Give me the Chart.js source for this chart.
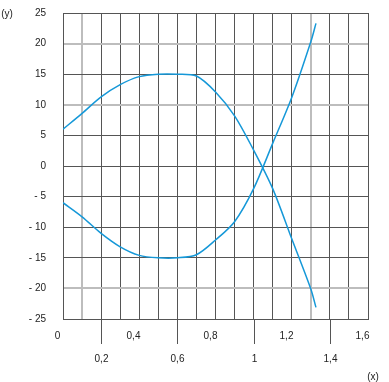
<!DOCTYPE html>
<html>
<head>
<meta charset="utf-8">
<script src="https://cdn.jsdelivr.net/npm/chart.js@4.4.1/dist/chart.umd.min.js"></script>
<style>
  html, body { margin: 0; padding: 0; background: #fff; }
  #wrap { width: 389px; height: 382px; }
</style>
</head>
<body>
<div id="wrap"><canvas id="chart"></canvas></div>
<script>
const xValues = [0, 0.1, 0.2, 0.3, 0.4, 0.5, 0.6, 0.7, 0.8, 0.9, 1.0, 1.1, 1.2, 1.3, 1.327];
const upperCurve = [6.0, 8.6, 11.3, 13.3, 14.6, 15.0, 15.0, 14.7, 12.1, 8.2, 2.6, -3.7, -11.9, -20.1, -23.1];
const lowerCurve = [-6.0, -8.3, -11.0, -13.2, -14.6, -15.0, -15.0, -14.5, -12.1, -9.1, -3.7, 3.7, 11.2, 20.3, 23.3];

const xTickValues = [0, 0.2, 0.4, 0.6, 0.8, 1.0, 1.2, 1.4, 1.6];
const xTickLabels = ["0", "0,2", "0,4", "0,6", "0,8", "1", "1,2", "1,4", "1,6"];

// grid lines that are drawn light grey in the original
const lightX = [0.1, 1.3];
const lightY = [20, 10, -20];

const FONT = '"Liberation Sans", Arial, sans-serif';
const DARK = "#555";
const LIGHT = "#bdbdbd";
const LINE = "#1598d8";

function isIn(list, v) {
  return list.some((w) => Math.abs(w - v) < 1e-6);
}

function toPoints(ys) {
  return xValues.map((x, i) => ({ x: x, y: ys[i] }));
}

// staggered x labels with long ticks on the lower row, plus axis names
const axisText = {
  id: "axisText",
  afterDraw(chart) {
    const { ctx, chartArea } = chart;
    const x = chart.scales.x;
    ctx.save();
    ctx.font = "10px " + FONT;
    ctx.fillStyle = "#222";
    ctx.textAlign = "center";
    ctx.textBaseline = "middle";
    xTickValues.forEach((v, i) => {
      const px = Math.round(x.getPixelForValue(v)) + 0.5;
      if (i % 2 === 1) {
        ctx.strokeStyle = DARK;
        ctx.lineWidth = 1;
        ctx.beginPath();
        ctx.moveTo(px, chartArea.bottom);
        ctx.lineTo(px, chartArea.bottom + 25);
        ctx.stroke();
        ctx.fillText(xTickLabels[i], px, chartArea.bottom + 40);
      } else {
        ctx.fillText(xTickLabels[i], px - 6, chartArea.bottom + 17);
      }
    });
    ctx.fillText("(y)", 7, 14);
    ctx.fillText("(x)", 373, 377);
    ctx.restore();
  },
};

const ctx = document.getElementById("chart").getContext("2d");

new Chart(ctx, {
  type: "scatter",
  data: {
    datasets: [
      {
        data: toPoints(upperCurve),
        showLine: true,
        borderColor: LINE,
        borderWidth: 1.5,
        pointRadius: 0,
        tension: 0.3,
      },
      {
        data: toPoints(lowerCurve),
        showLine: true,
        borderColor: LINE,
        borderWidth: 1.5,
        pointRadius: 0,
        tension: 0.3,
      },
    ],
  },
  options: {
    responsive: true,
    maintainAspectRatio: false,
    animation: false,
    events: [],
    layout: { padding: { top: 13, right: 21, left: 0, bottom: 0 } },
    plugins: {
      legend: { display: false },
      tooltip: { enabled: false },
    },
    scales: {
      x: {
        type: "linear",
        min: 0,
        max: 1.6,
        ticks: { stepSize: 0.1, display: false },
        grid: {
          drawTicks: false,
          color: (c) => (c.tick && isIn(lightX, c.tick.value) ? LIGHT : DARK),
          lineWidth: (c) => (c.tick && isIn(lightX, c.tick.value) ? 2 : 1),
        },
        border: { color: DARK },
        afterFit: (s) => {
          s.height = 63;
          s.paddingLeft = 0;
          s.paddingRight = 0;
        },
      },
      y: {
        min: -25,
        max: 25,
        ticks: {
          stepSize: 5,
          padding: 17,
          color: "#222",
          font: { family: FONT, size: 10 },
          callback: (v) => (v < 0 ? "- " + Math.abs(v) : String(v)),
        },
        grid: {
          drawTicks: false,
          color: (c) => (c.tick && isIn(lightY, c.tick.value) ? LIGHT : DARK),
          lineWidth: (c) => (c.tick && isIn(lightY, c.tick.value) ? 2 : 1),
        },
        border: { color: DARK },
        afterFit: (s) => {
          s.width = 63;
          s.paddingTop = 0;
          s.paddingBottom = 0;
        },
      },
    },
  },
  plugins: [axisText],
});
</script>
</body>
</html>
